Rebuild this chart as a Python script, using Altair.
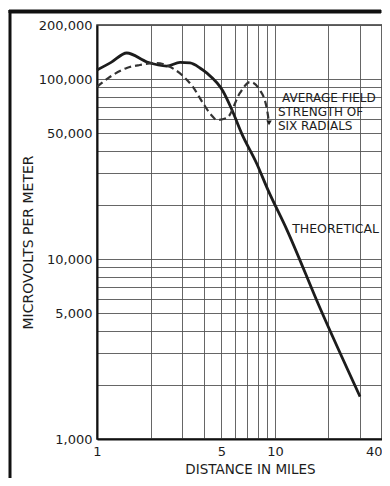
import altair as alt
import pandas as pd

# Axis grid values and labels
x_grid = [1, 2, 3, 4, 5, 6, 7, 8, 9, 10, 20, 30, 40]
x_labels = [1, 5, 10, 40]
y_grid = [1000, 2000, 3000, 4000, 5000, 6000, 7000, 8000, 9000,
          10000, 20000, 30000, 40000, 50000, 60000, 70000, 80000, 90000,
          100000, 200000]
y_labels = [1000, 5000, 10000, 50000, 100000, 200000]

# Theoretical (solid) curve
theo_dist = [1.0, 1.2, 1.47, 1.91, 2.47, 2.93, 3.33, 3.79, 4.15, 5.1, 5.7,
             6.5, 7.9, 9.1, 11.7, 17.9, 30.1]
theo_val = [112500, 124000, 139800, 124600, 118300, 124000, 123000, 115400,
            108000, 86000, 68500, 50000, 34000, 24500, 14500, 5360, 1720]

# Average field strength of six radials (dashed)
avg_dist = [1.0, 1.18, 1.47, 1.74, 2.17, 2.51, 3.0, 3.46, 3.94, 4.4, 4.73,
            5.38, 6.36, 7.25, 8.23, 9.04, 9.27]
avg_val = [90500, 102800, 115400, 119900, 123000, 118300, 105500, 90500,
           73700, 63000, 59300, 60900, 83800, 96400, 87100, 67400, 57100]

# Annotations
ann_text = ["AVERAGE FIELD", "STRENGTH OF", "SIX RADIALS"]
ann_dist = [10.96, 10.4, 10.4]
ann_val = [78600, 65800, 54900]
theo_text = ["THEORETICAL"]
theo_text_dist = [12.5]
theo_text_val = [14700]

FONT = "DejaVu Sans"
INK = "#1c1c1c"

theo_df = pd.DataFrame({"d": theo_dist, "v": theo_val})
avg_df = pd.DataFrame({"d": avg_dist, "v": avg_val})
end_df = pd.DataFrame({"d": avg_dist[-1:], "v": avg_val[-1:]})
ann_df = pd.DataFrame({"d": ann_dist, "v": ann_val, "t": ann_text})
theo_ann_df = pd.DataFrame({"d": theo_text_dist, "v": theo_text_val, "t": theo_text})
frame_df = pd.DataFrame({"k": [0]})

x_expr = "indexof([%s], datum.value) >= 0 ? format(datum.value, 'd') : ''" % ",".join(str(v) for v in x_labels)
y_expr = "indexof([%s], datum.value) >= 0 ? format(datum.value, ',') : ''" % ",".join(str(v) for v in y_labels)

x_axis = alt.Axis(
    values=x_grid, labelExpr=x_expr, grid=True, ticks=False,
    gridColor="#555555", gridWidth=0.9,
    domainColor="#111111", domainWidth=2,
    labelFont=FONT, labelFontSize=13, labelColor=INK, labelPadding=6,
    labelOverlap=False,
    labelAlign={"condition": {"test": "datum.value == 40", "value": "right"}, "value": "center"},
    title="DISTANCE IN MILES", titleFont=FONT, titleFontSize=13.5,
    titleFontWeight="normal", titleColor=INK,
    titleX=153, titleY=30, titleAlign="center", titleBaseline="middle",
)
y_axis = alt.Axis(
    values=y_grid, labelExpr=y_expr, grid=True, ticks=False,
    gridColor="#555555", gridWidth=0.9,
    domainColor="#111111", domainWidth=2,
    labelFont=FONT, labelFontSize=13, labelColor=INK, labelPadding=5,
    labelOverlap=False,
    title="MICROVOLTS PER METER", titleFont=FONT, titleFontSize=14,
    titleFontWeight="normal", titleColor=INK,
    titleX=-69, titleY=217, titleAngle=270, titleAlign="center",
    titleBaseline="middle",
)

xs = alt.Scale(type="log", domain=[1, 40], nice=False)
ys = alt.Scale(type="log", domain=[1000, 200000], nice=False)
X = alt.X("d:Q", scale=xs, axis=x_axis)
Y = alt.Y("v:Q", scale=ys, axis=y_axis)

# Decorative outer frame (top and left edges)
frame_top = alt.Chart(frame_df).mark_rect(
    fill="#111111", stroke="#111111", strokeWidth=1
).encode(x=alt.value(-88), x2=alt.value(284), y=alt.value(-15), y2=alt.value(-12))
frame_left = alt.Chart(frame_df).mark_rule(
    color="#111111", strokeWidth=3
).encode(x=alt.value(-87), y=alt.value(-15), y2=alt.value(453))

solid = alt.Chart(theo_df).mark_line(
    color=INK, strokeWidth=2.8, interpolate="monotone"
).encode(x=X, y=Y)

dashed = alt.Chart(avg_df).mark_line(
    color="#333333", strokeWidth=2.2, strokeDash=[7, 4], interpolate="monotone"
).encode(x=X, y=Y)

end_mark = alt.Chart(end_df).mark_point(
    shape="triangle-down", filled=True, color=INK, size=30, opacity=1
).encode(x=X, y=Y)

ann = alt.Chart(ann_df).mark_text(
    align="left", baseline="middle", font=FONT, fontSize=12, color=INK
).encode(x=X, y=Y, text="t:N")

theo_ann = alt.Chart(theo_ann_df).mark_text(
    align="left", baseline="middle", font=FONT, fontSize=12.5, color=INK
).encode(x=X, y=Y, text="t:N")

chart = alt.layer(
    frame_top, frame_left, solid, dashed, end_mark, ann, theo_ann
).properties(
    width=285, height=414,
    autosize=alt.AutoSizeParams(type="none"),
    padding={"left": 89, "top": 17, "right": 0, "bottom": 39},
    background="#ffffff",
).configure_view(
    stroke="#333333", strokeWidth=1.5
)

chart.save("out.html", embed_options={"renderer": "svg", "actions": False})
